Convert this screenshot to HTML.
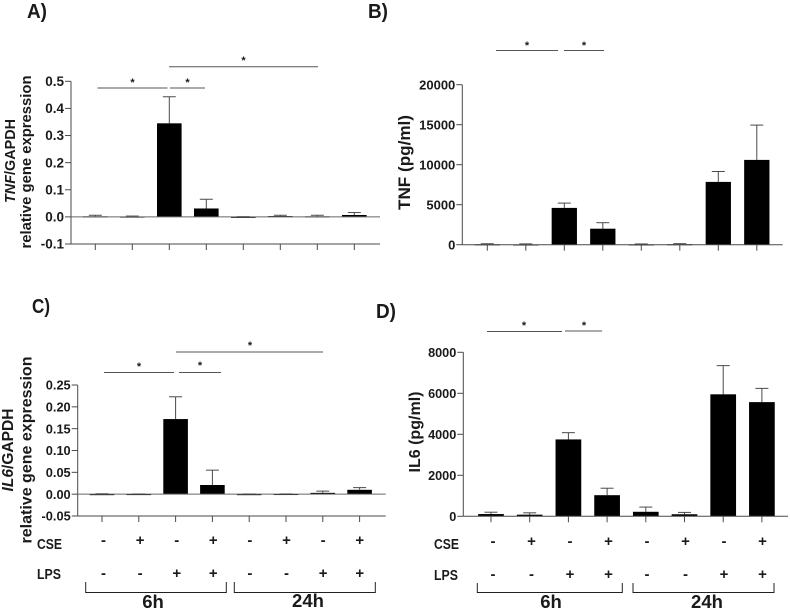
<!DOCTYPE html>
<html>
<head>
<meta charset="utf-8">
<style>
html,body{margin:0;padding:0;background:#fff;width:790px;height:610px;overflow:hidden}
svg{display:block;font-family:"Liberation Sans",sans-serif;filter:blur(0.3px)}
text{fill:#1a1a1a}
.tick{font-size:13px;font-weight:bold;text-anchor:end}
.ytitle{font-weight:bold;text-anchor:middle}
.panel{font-size:20px;font-weight:bold}
.row{font-size:14.5px;font-weight:bold}
.sign{font-size:15px;font-weight:bold;text-anchor:middle}
.group{font-size:18.5px;font-weight:bold;text-anchor:middle}
.star{font-size:11px;font-weight:bold;text-anchor:middle}
.sig{stroke:#555;stroke-width:1;fill:none}
.brace{stroke:#222;stroke-width:1;fill:none}
</style>
</head>
<body>
<svg id="fig" width="790" height="610" viewBox="0 0 790 610" xmlns="http://www.w3.org/2000/svg">
  <text class="panel" x="27" y="18" textLength="20" lengthAdjust="spacingAndGlyphs">A)</text>
  <text class="panel" x="368" y="18" textLength="20" lengthAdjust="spacingAndGlyphs">B)</text>
  <text class="panel" x="32" y="313" textLength="18" lengthAdjust="spacingAndGlyphs">C)</text>
  <text class="panel" x="376" y="318" textLength="20" lengthAdjust="spacingAndGlyphs">D)</text>

  <text class="ytitle" font-size="14.5" transform="translate(15,161) rotate(-90)" textLength="84" lengthAdjust="spacingAndGlyphs"><tspan font-style="italic">TNF</tspan>/GAPDH</text>
  <text class="ytitle" font-size="15" transform="translate(31,162) rotate(-90)" textLength="173" lengthAdjust="spacingAndGlyphs">relative gene expression</text>
  <text class="ytitle" font-size="17" transform="translate(410,162.5) rotate(-90)" textLength="95" lengthAdjust="spacingAndGlyphs">TNF (pg/ml)</text>
  <text class="ytitle" font-size="15.5" transform="translate(13,450) rotate(-90)" textLength="83" lengthAdjust="spacingAndGlyphs"><tspan font-style="italic">IL6</tspan>/GAPDH</text>
  <text class="ytitle" font-size="16" transform="translate(31.5,450) rotate(-90)" textLength="187" lengthAdjust="spacingAndGlyphs">relative gene expression</text>
  <text class="ytitle" font-size="16" transform="translate(420,432) rotate(-90)" textLength="81" lengthAdjust="spacingAndGlyphs">IL6 (pg/ml)</text>

  <g>
    <path class="sig" d="M97.5 88H167.5M170 88H205M169 66.7H318"/>
    <text class="star" x="132.5" y="86">*</text><text class="star" x="187.5" y="86">*</text><text class="star" x="243.5" y="64">*</text>
  </g>
  <g>
    <path class="sig" d="M496 50.5H558M564 50.5H604"/>
    <text class="star" x="527" y="49">*</text><text class="star" x="584" y="49">*</text>
  </g>
  <g>
    <path class="sig" d="M104 372.5H174M179 372.5H221M176 352H323"/>
    <text class="star" x="139" y="370">*</text><text class="star" x="200" y="369">*</text><text class="star" x="250" y="349">*</text>
  </g>
  <g>
    <path class="sig" d="M487 331.5H562M565 331H602"/>
    <text class="star" x="524" y="329">*</text><text class="star" x="584" y="329">*</text>
  </g>

  <text class="row" x="37" y="549" textLength="25" lengthAdjust="spacingAndGlyphs">CSE</text>
  <text class="row" x="37" y="579" textLength="24" lengthAdjust="spacingAndGlyphs">LPS</text>
  <text class="row" x="434" y="549" textLength="25" lengthAdjust="spacingAndGlyphs">CSE</text>
  <text class="row" x="434" y="580" textLength="24" lengthAdjust="spacingAndGlyphs">LPS</text>

  <g>
    <path class="brace" d="M85.7 582V592.5H226.3V582M234.3 582V592.5H375.3V582"/>
    <text class="group" x="153" y="608">6h</text><text class="group" x="308" y="607">24h</text>
  </g>
  <g>
    <path class="brace" d="M477.3 583V592.5H622.3V583M633 583V592.5H774V583"/>
    <text class="group" x="551" y="608">6h</text><text class="group" x="707" y="608">24h</text>
  </g>
</svg>
<script>
const svgNS = "http://www.w3.org/2000/svg";
const fig = document.getElementById("fig");

const categories = ["1","2","3","4","5","6","7","8"];

const ticksA = ["-0.1","0.0","0.1","0.2","0.3","0.4","0.5"];
const meansA = [0.002,0.001,0.345,0.031,-0.001,0.003,0.002,0.007];
const errTopsA = [0.006,0.003,0.443,0.065,0.001,0.006,0.006,0.016];

const ticksB = ["0","5000","10000","15000","20000"];
const meansB = [50,30,4600,2000,40,60,7850,10600];
const errTopsB = [120,100,5200,2750,90,130,9150,14950];

const ticksC = ["-0.05","0.00","0.05","0.10","0.15","0.20","0.25"];
const meansC = [-0.002,0.0002,0.172,0.021,-0.002,0.0003,0.003,0.010];
const errTopsC = [0.001,0.0005,0.223,0.055,0.0005,0.0006,0.007,0.015];

const ticksD = ["0","2000","4000","6000","8000"];
const meansD = [110,80,3750,1030,220,100,5950,5570];
const errTopsD = [200,170,4080,1370,450,190,7350,6240];

const cseSigns = ["-","+","-","+","-","+","-","+"];
const lpsSigns = ["-","-","+","+","-","-","+","+"];

function line(parent, x1, y1, x2, y2, color, w) {
  const l = document.createElementNS(svgNS, "line");
  l.setAttribute("x1", x1);
  l.setAttribute("y1", y1);
  l.setAttribute("x2", x2);
  l.setAttribute("y2", y2);
  l.setAttribute("stroke", color);
  l.setAttribute("stroke-width", w);
  parent.appendChild(l);
  return l;
}

function drawChart(id, cfg, ticks, means, errTops) {
  const g = document.createElementNS(svgNS, "g");
  
  
  fig.appendChild(g);

  const lo = Number(ticks[0]);
  const hi = Number(ticks[ticks.length - 1]);
  const yScale = v => cfg.yBottom + (v - lo) / (hi - lo) * (cfg.yTop - cfg.yBottom);
  const xScale = i => cfg.xFirst + i * cfg.xStep;
  const zero = yScale(0);
  const axisColor = "#4a4a4a";

  categories.forEach((c, i) => {
    const cap = line(g, xScale(i) - 6.5, yScale(errTops[i]), xScale(i) + 6.5, yScale(errTops[i]), axisColor, 1);
    
    
    const stem = line(g, xScale(i), yScale(errTops[i]), xScale(i), yScale(means[i]), axisColor, 1);
    
    

    const y0 = yScale(means[i]);
    const bar = document.createElementNS(svgNS, "rect");
    bar.setAttribute("x", xScale(i) - cfg.barW / 2);
    bar.setAttribute("y", Math.min(y0, zero));
    bar.setAttribute("width", cfg.barW);
    bar.setAttribute("height", Math.max(Math.abs(y0 - zero), 1));
    bar.setAttribute("fill", "#000");
    
    
    g.appendChild(bar);

    const t = line(g, xScale(i), yScale(lo), xScale(i), yScale(lo) + 6, axisColor, 1);
    
    
  });

  const yAxis = line(g, cfg.xAxis, yScale(hi), cfg.xAxis, yScale(lo), axisColor, 1);
  
  

  const base = line(g, cfg.xAxis, yScale(lo), cfg.xEnd, yScale(lo), axisColor, 1);
  
  

  if (lo < 0) {
    const zl = line(g, cfg.xAxis, zero, cfg.xEnd, zero, "#666", 1);
    
    
  }

  ticks.forEach(label => {
    const y = yScale(Number(label));
    const tk = line(g, cfg.xAxis - 6, y, cfg.xAxis, y, axisColor, 1);
    
    
    const tx = document.createElementNS(svgNS, "text");
    tx.setAttribute("class", "tick");
    tx.setAttribute("x", cfg.xAxis - 7);
    tx.setAttribute("y", y + 4.7);
    tx.setAttribute("style", "font-size:" + cfg.tickSize + "px");
    tx.textContent = label;
    
    
    g.appendChild(tx);
  });
}

function drawSigns(id, signs, xs, y) {
  signs.forEach((s, i) => {
    const t = document.createElementNS(svgNS, "text");
    t.setAttribute("class", "sign");
    t.setAttribute("x", xs(i));
    t.setAttribute("y", y);
    t.textContent = s;
    
    
    fig.appendChild(t);
  });
}

drawChart("a", {xAxis:71, xEnd:380, yTop:81.3, yBottom:244, xFirst:95.3, xStep:37, barW:24.6, tickSize:13.5}, ticksA, meansA, errTopsA);
drawChart("b", {xAxis:462.3, xEnd:782.7, yTop:84.7, yBottom:244.7, xFirst:487.3, xStep:38.5, barW:25.3, tickSize:13}, ticksB, meansB, errTopsB);
drawChart("c", {xAxis:77.7, xEnd:385.7, yTop:385, yBottom:516, xFirst:102, xStep:36.8, barW:24.6, tickSize:12.8}, ticksC, meansC, errTopsC);
drawChart("d", {xAxis:463.3, xEnd:788, yTop:352.3, yBottom:516.3, xFirst:491, xStep:38.7, barW:25.7, tickSize:12.7}, ticksD, meansD, errTopsD);

drawSigns("cse-c", cseSigns, i => 103.5 + i * 36.6, 545);
drawSigns("lps-c", lpsSigns, i => 103.5 + i * 36.6, 578);
drawSigns("cse-d", cseSigns, i => 493 + i * 38.5, 546);
drawSigns("lps-d", lpsSigns, i => 493 + i * 38.5, 579);
</script>
</body>
</html>
